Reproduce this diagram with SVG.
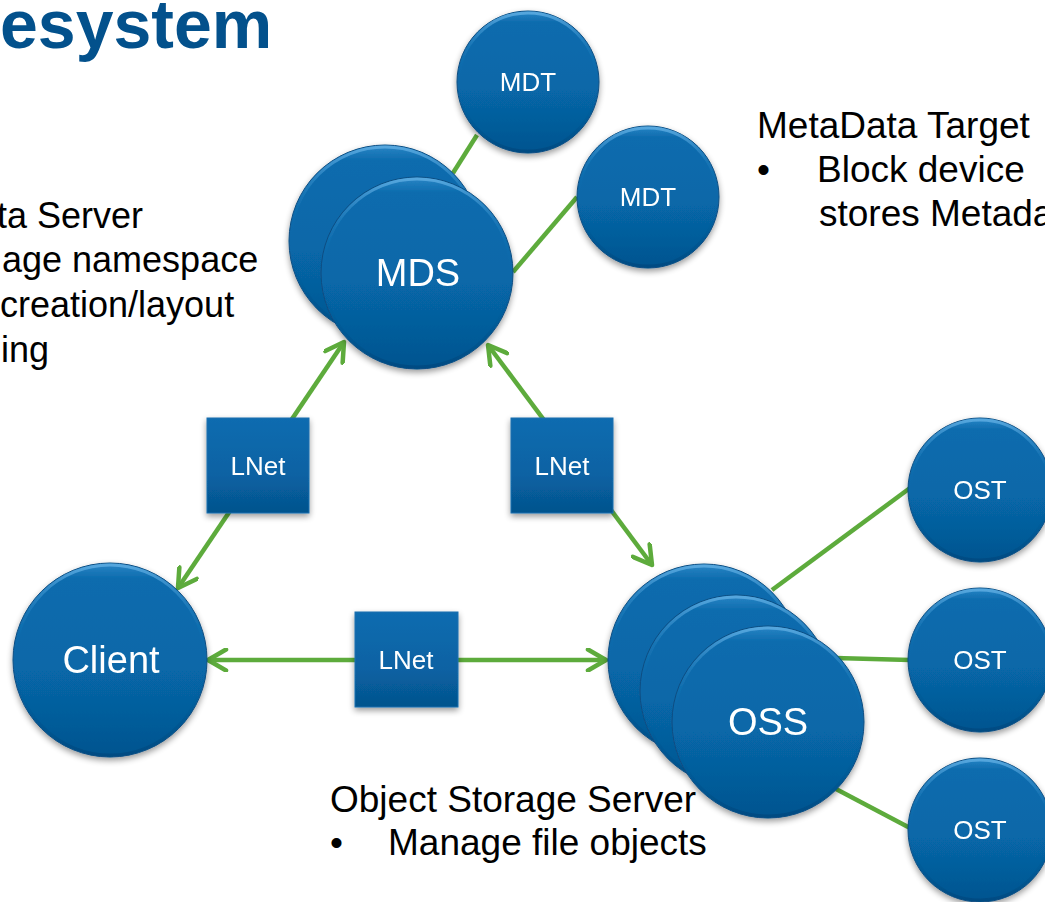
<svg xmlns="http://www.w3.org/2000/svg" width="1045" height="902" viewBox="0 0 1045 902">
  <defs>
    <style>
      .ball { fill: url(#ballGrad); stroke: #0a4d82; stroke-width: 1; }
      .rim { fill: none; stroke: url(#rimGrad); stroke-width: 3; }
      .box { fill: url(#boxGrad); stroke: #1c6fae; stroke-width: 1; }
      .lbl { font-family: "Liberation Sans", Arial, sans-serif; fill: #ffffff; text-anchor: middle; }
      .big { font-size: 38px; }
      .small { font-size: 26px; }
      .link { fill: none; stroke: #5dab3c; stroke-width: 4.5; }
      .note { font-family: "Liberation Sans", Arial, sans-serif; font-size: 37px; fill: #000000; }
      .side { font-size: 36px; }
      .title { font-family: "Liberation Sans", Arial, sans-serif; font-size: 68px; font-weight: bold; fill: #03518c; }
    </style>
    <linearGradient id="ballGrad" x1="0" y1="0" x2="0" y2="1">
      <stop offset="0" stop-color="#2a86c6"/>
      <stop offset="0.08" stop-color="#0d6cae"/>
      <stop offset="0.55" stop-color="#0767a8"/>
      <stop offset="1" stop-color="#04548f"/>
    </linearGradient>
    <linearGradient id="rimGrad" x1="0" y1="0" x2="0" y2="1">
      <stop offset="0" stop-color="#5aaae0" stop-opacity="0.9"/>
      <stop offset="0.25" stop-color="#3d92cf" stop-opacity="0.25"/>
      <stop offset="0.5" stop-color="#0767a8" stop-opacity="0"/>
      <stop offset="1" stop-color="#03457a" stop-opacity="0.6"/>
    </linearGradient>
    <linearGradient id="boxGrad" x1="0" y1="0" x2="0" y2="1">
      <stop offset="0" stop-color="#0b6cb0"/>
      <stop offset="0.6" stop-color="#0862a3"/>
      <stop offset="1" stop-color="#05538d"/>
    </linearGradient>
    <filter id="shadow" x="-20%" y="-20%" width="140%" height="150%">
      <feGaussianBlur in="SourceAlpha" stdDeviation="3"/>
      <feOffset dx="0" dy="3" result="b"/>
      <feComponentTransfer><feFuncA type="linear" slope="0.4"/></feComponentTransfer>
      <feMerge><feMergeNode/><feMergeNode in="SourceGraphic"/></feMerge>
    </filter>
    <marker id="chev" viewBox="0 0 24 24" refX="21" refY="12" markerWidth="24" markerHeight="24" markerUnits="userSpaceOnUse" orient="auto-start-reverse">
      <path d="M3,1.5 L21,12 L3,22.5" fill="none" stroke="#5dab3c" stroke-width="4.5" stroke-linecap="round" stroke-linejoin="round"/>
    </marker>
  </defs>

  <rect width="1045" height="902" fill="#ffffff"/>

  <!-- heading -->
  <text class="title" x="0" y="48">esystem</text>

  <!-- connectors -->
  <g id="connectors">
    <line class="link" x1="477" y1="135" x2="453" y2="173"/>
    <line class="link" x1="577" y1="197" x2="513" y2="272"/>
    <line class="link" x1="178" y1="588" x2="344" y2="342" marker-start="url(#chev)" marker-end="url(#chev)"/>
    <line class="link" x1="488" y1="345" x2="652" y2="565" marker-start="url(#chev)" marker-end="url(#chev)"/>
    <line class="link" x1="208" y1="660" x2="606" y2="660" marker-start="url(#chev)" marker-end="url(#chev)"/>
    <line class="link" x1="772" y1="590" x2="910" y2="488"/>
    <line class="link" x1="835" y1="658" x2="910" y2="660"/>
    <line class="link" x1="836" y1="789" x2="910" y2="828"/>
  </g>

  <!-- metadata targets -->
  <g id="mdt1" filter="url(#shadow)">
    <circle class="ball" cx="528" cy="82" r="71"/>
    <circle class="rim" cx="528" cy="82" r="69"/>
    <text class="lbl small" x="528" y="91">MDT</text>
  </g>
  <g id="mdt2" filter="url(#shadow)">
    <circle class="ball" cx="648" cy="197" r="71"/>
    <circle class="rim" cx="648" cy="197" r="69"/>
    <text class="lbl small" x="648" y="206">MDT</text>
  </g>

  <!-- metadata server pair -->
  <g id="mds" filter="url(#shadow)">
    <circle class="ball" cx="385" cy="241" r="96"/>
    <circle class="rim" cx="385" cy="241" r="94"/>
    <circle class="ball" cx="417" cy="273" r="96"/>
    <circle class="rim" cx="417" cy="273" r="94"/>
    <text class="lbl big" x="418" y="286">MDS</text>
  </g>

  <!-- client -->
  <g id="client" filter="url(#shadow)">
    <circle class="ball" cx="110" cy="660" r="97"/>
    <circle class="rim" cx="110" cy="660" r="95"/>
    <text class="lbl big" x="111" y="673">Client</text>
  </g>

  <!-- object storage servers -->
  <g id="oss" filter="url(#shadow)">
    <circle class="ball" cx="704" cy="660" r="96"/>
    <circle class="rim" cx="704" cy="660" r="94"/>
    <circle class="ball" cx="736" cy="691" r="96"/>
    <circle class="rim" cx="736" cy="691" r="94"/>
    <circle class="ball" cx="768" cy="722" r="96"/>
    <circle class="rim" cx="768" cy="722" r="94"/>
    <text class="lbl big" x="768" y="735">OSS</text>
  </g>

  <!-- object storage targets -->
  <g id="ost1" filter="url(#shadow)">
    <circle class="ball" cx="980" cy="490" r="72"/>
    <circle class="rim" cx="980" cy="490" r="70"/>
    <text class="lbl small" x="980" y="499">OST</text>
  </g>
  <g id="ost2" filter="url(#shadow)">
    <circle class="ball" cx="980" cy="660" r="72"/>
    <circle class="rim" cx="980" cy="660" r="70"/>
    <text class="lbl small" x="980" y="669">OST</text>
  </g>
  <g id="ost3" filter="url(#shadow)">
    <circle class="ball" cx="980" cy="830" r="72"/>
    <circle class="rim" cx="980" cy="830" r="70"/>
    <text class="lbl small" x="980" y="839">OST</text>
  </g>

  <!-- network routers -->
  <g id="lnet1" filter="url(#shadow)">
    <rect class="box" x="207" y="418" width="102" height="95"/>
    <text class="lbl small" x="258" y="475">LNet</text>
  </g>
  <g id="lnet2" filter="url(#shadow)">
    <rect class="box" x="511" y="418" width="102" height="95"/>
    <text class="lbl small" x="562" y="475">LNet</text>
  </g>
  <g id="lnet3" filter="url(#shadow)">
    <rect class="box" x="355" y="612" width="103" height="95"/>
    <text class="lbl small" x="406" y="669">LNet</text>
  </g>

  <!-- annotations -->
  <g id="notes">
    <text class="note side" x="-3" y="228">ta Server</text>
    <text class="note side" x="2" y="272">age namespace</text>
    <text class="note side" x="0" y="317">creation/layout</text>
    <text class="note side" x="1" y="362">ing</text>

    <text class="note" x="757" y="138">MetaData Target</text>
    <text class="note" x="757" y="182">•</text>
    <text class="note" x="817" y="182">Block device</text>
    <text class="note" x="819" y="226">stores Metadata</text>

    <text class="note" x="330" y="812">Object Storage Server</text>
    <text class="note" x="330" y="855">•</text>
    <text class="note" x="388" y="855">Manage file objects</text>
  </g>
</svg>
